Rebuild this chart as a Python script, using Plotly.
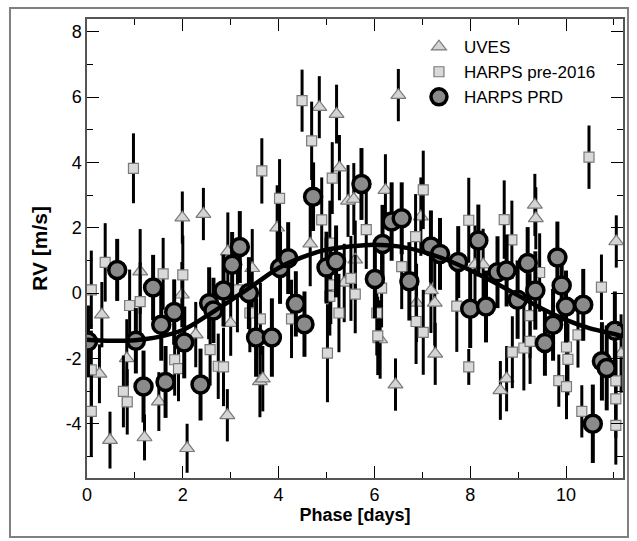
import plotly.graph_objects as go

# ---------------- data ----------------
uves_phase = [0.26, 0.31, 0.48, 0.83, 1.11, 1.20, 1.50, 1.98, 1.99, 2.09, 2.27, 2.43,
              2.93, 2.94, 3.00, 3.45, 3.61, 3.67, 3.97, 4.66, 4.85, 5.21, 5.27, 5.37,
              5.45, 5.57, 5.60, 6.12, 6.23, 6.44, 6.50, 6.88, 6.97, 7.18, 7.26, 7.27,
              8.10, 8.27, 8.63, 8.76, 9.35, 9.37, 11.05, 11.15]
uves_rv = [-2.47, -0.66, -4.50, -2.00, 0.66, -4.42, -3.32, -0.05, 2.31, -4.75, -1.27, 2.42,
           -3.74, 1.27, -0.92, 0.76, -2.70, -2.62, 2.00, 1.51, 5.69, 5.48, 3.84, 0.31,
           2.82, 2.88, 1.02, -1.42, 3.15, -2.80, 6.06, -0.30, 2.34, 0.08, -0.30, -1.86,
           0.87, 0.87, -2.98, -2.62, 2.70, 2.29, 1.58, -1.85]
uves_err = [0.9, 1.0, 0.87, 1.2, 1.3, 0.7, 0.9, 1.0, 0.8, 0.75, 1.0, 0.8,
            0.8, 1.2, 1.0, 1.2, 1.1, 1.0, 1.3, 1.3, 0.95, 0.9, 1.0, 1.2,
            1.1, 1.1, 1.2, 1.2, 1.1, 0.8, 0.8, 1.2, 1.2, 1.3, 1.3, 0.95,
            1.2, 1.1, 0.9, 1.0, 0.95, 0.95, 0.8, 1.2]

pre_phase = [0.09, 0.09, 0.09, 0.38, 0.76, 0.84, 0.89, 0.97, 1.11, 1.59, 1.83, 1.91,
             2.00, 2.57, 2.74, 2.85, 3.14, 3.40, 3.62, 3.65, 4.02, 4.27, 4.49, 4.69,
             4.90, 5.02, 5.07, 5.09, 5.07, 5.12, 5.26, 5.51, 5.60, 5.83, 6.05, 6.07,
             6.15, 6.57, 6.86, 6.87, 7.02, 7.02, 7.72, 7.97, 7.97, 8.71, 8.87, 8.88,
             9.12, 9.25, 9.25, 9.45, 9.85, 10.01, 10.01, 10.04, 10.25, 10.33, 10.48,
             10.74, 11.04, 11.04, 11.04]
pre_rv = [0.10, -2.35, -3.62, 0.94, -3.01, -3.33, -0.38, 3.82, -0.26, 0.59, -2.04, -2.31,
          0.56, -1.73, -2.24, -2.26, 0.10, -0.61, -0.79, 3.74, 2.90, -0.79, 5.89, 4.66,
          2.24, -1.84, -0.10, 0.25, 1.53, 3.52, -0.61, 0.45, -0.03, 1.94, -0.61, -1.31,
          0.15, 0.81, 1.73, -0.87, -1.20, 3.16, -0.40, -2.26, 2.23, 2.25, 1.63, -1.81,
          -1.68, -1.48, -0.69, 0.63, -2.68, -1.65, -2.86, -2.03, -1.28, -3.62, 4.16,
          0.18, -2.69, -3.24, -4.05]
pre_err = [1.2, 1.2, 1.4, 1.2, 1.1, 1.0, 1.1, 1.07, 1.2, 1.1, 1.1, 1.0,
           1.2, 1.1, 1.0, 1.2, 1.3, 1.2, 1.1, 1.0, 1.2, 1.2, 0.95, 1.2,
           1.3, 1.5, 1.2, 1.2, 1.3, 1.1, 1.2, 1.3, 1.2, 1.2, 1.3, 1.2,
           1.2, 1.3, 1.3, 1.3, 1.3, 1.2, 1.4, 0.55, 1.3, 1.2, 1.2, 1.1,
           1.3, 1.3, 1.3, 1.2, 0.8, 1.3, 1.0, 1.1, 1.0, 0.8, 0.97,
           1.0, 1.2, 1.2, 1.2]

prd_phase = [0.02, 0.63, 1.02, 1.18, 1.38, 1.55, 1.64, 1.82, 2.03, 2.37, 2.55, 2.64,
             2.85, 3.03, 3.19, 3.38, 3.53, 3.86, 4.03, 4.20, 4.36, 4.54, 4.72, 5.00,
             5.20, 5.73, 6.01, 6.17, 6.36, 6.57, 6.73, 7.18, 7.37, 7.75, 8.00, 8.17,
             8.33, 8.57, 8.76, 8.99, 9.20, 9.36, 9.56, 9.73, 9.82, 9.91, 10.00, 10.36,
             10.56, 10.75, 10.85, 11.02]
prd_rv = [-1.48, 0.71, -1.46, -2.86, 0.17, -0.97, -2.72, -0.58, -1.51, -2.80, -0.31, -0.53,
          0.08, 0.87, 1.41, 0.00, -1.36, -1.36, 0.77, 1.07, -0.33, -0.95, 2.95, 0.78,
          0.97, 3.34, 0.43, 1.50, 2.19, 2.29, 0.36, 1.43, 1.20, 0.95, -0.48, 1.61,
          -0.41, 0.64, 0.69, -0.20, 0.92, 0.08, -1.53, -0.97, 1.09, 0.23, -0.41, -0.36,
          -4.00, -2.09, -2.29, -1.15]
prd_err = [1.1, 0.95, 1.0, 1.1, 1.0, 1.1, 1.1, 1.0, 1.1, 1.1, 1.1, 1.0,
           1.1, 1.0, 1.1, 1.1, 1.2, 1.2, 1.1, 1.1, 1.0, 1.0, 1.05, 1.1,
           1.1, 1.1, 1.2, 1.2, 1.2, 1.1, 1.2, 1.1, 1.1, 1.1, 1.2, 1.1,
           1.1, 1.1, 1.1, 1.2, 1.1, 1.2, 1.0, 1.1, 1.1, 1.1, 1.1, 1.1,
           1.2, 1.2, 1.3, 1.2]

model_phase = [0.0, 0.5, 1.0, 1.5, 2.0, 2.5, 3.0, 3.5, 4.0, 4.5, 5.0, 5.5, 6.0,
               6.5, 7.0, 7.5, 8.0, 8.5, 9.0, 9.5, 10.0, 10.5, 11.0, 11.19]
model_rv = [-1.43, -1.46, -1.44, -1.34, -1.13, -0.70, -0.22, 0.27, 0.77, 1.10, 1.33, 1.43, 1.48,
            1.43, 1.27, 1.02, 0.70, 0.33, -0.07, -0.48, -0.82, -1.08, -1.25, -1.33]

x_ticks = [0, 2, 4, 6, 8, 10]
y_ticks = [-4, -2, 0, 2, 4, 6, 8]
y_ticktext = ["-4", "-2", "0", "2", "4", "6", "8"]

FONT = "Liberation Sans, Arial, Helvetica, sans-serif"

fig = go.Figure()

fig.add_trace(go.Scatter(
    x=uves_phase, y=uves_rv, mode="markers", name="UVES",
    error_y=dict(type="data", array=uves_err, color="black", thickness=3, width=0),
    marker=dict(symbol="triangle-up", size=13, color="#d4d4d4",
                line=dict(color="#7a7a7a", width=1.2)),
))
fig.add_trace(go.Scatter(
    x=pre_phase, y=pre_rv, mode="markers", name="HARPS pre-2016",
    error_y=dict(type="data", array=pre_err, color="black", thickness=3, width=0),
    marker=dict(symbol="square", size=10, color="#d9d9d9",
                line=dict(color="#7a7a7a", width=1.2)),
))
fig.add_trace(go.Scatter(
    x=prd_phase, y=prd_rv, mode="markers", name="HARPS PRD",
    error_y=dict(type="data", array=prd_err, color="black", thickness=4, width=0),
    marker=dict(symbol="circle", size=17, color="#8a8a8a",
                line=dict(color="black", width=3.5)),
))
fig.add_trace(go.Scatter(
    x=model_phase, y=model_rv, mode="lines", showlegend=False,
    line=dict(color="black", width=4.5, shape="spline"),
))

axis_common = dict(
    showline=True, linecolor="#555555", linewidth=1.5, mirror="allticks",
    ticks="inside", ticklen=12, tickwidth=1.2, tickcolor="black",
    showgrid=False, zeroline=False,
    tickfont=dict(family=FONT, size=18, color="black"),
)

fig.update_xaxes(
    range=[0, 11.19], tickmode="array", tickvals=x_ticks,
    minor=dict(dtick=1, tick0=0, ticks="inside", ticklen=6, tickwidth=1.2, tickcolor="black"),
    title=dict(text="<b>Phase [days]</b>", font=dict(family=FONT, size=18, color="black"), standoff=4),
    **axis_common,
)
fig.update_yaxes(
    range=[-5.66, 8.39], tickmode="array", tickvals=y_ticks, ticktext=y_ticktext,
    minor=dict(dtick=1, tick0=0, ticks="inside", ticklen=6, tickwidth=1.2, tickcolor="black"),
    title=dict(text="<b>RV [m/s]</b>", font=dict(family=FONT, size=21, color="black"), standoff=12),
    **axis_common,
)

fig.update_layout(
    width=637, height=541,
    margin=dict(l=87, r=14, t=19, b=63),
    paper_bgcolor="white", plot_bgcolor="white",
    font=dict(family=FONT, color="black"),
    legend=dict(x=0.61, y=0.978, xanchor="left", yanchor="top",
                bgcolor="rgba(0,0,0,0)", font=dict(family=FONT, size=17, color="black"),
                itemwidth=40, tracegroupgap=0),
    shapes=[dict(type="rect", xref="paper", yref="paper",
                 x0=-0.1437, x1=1.0093, y0=-0.1285, y1=1.024,
                 line=dict(color="#808080", width=2), layer="below")],
)

fig.write_html("out.html", config={"displayModeBar": False},
               post_script="document.body.style.margin='0';")
